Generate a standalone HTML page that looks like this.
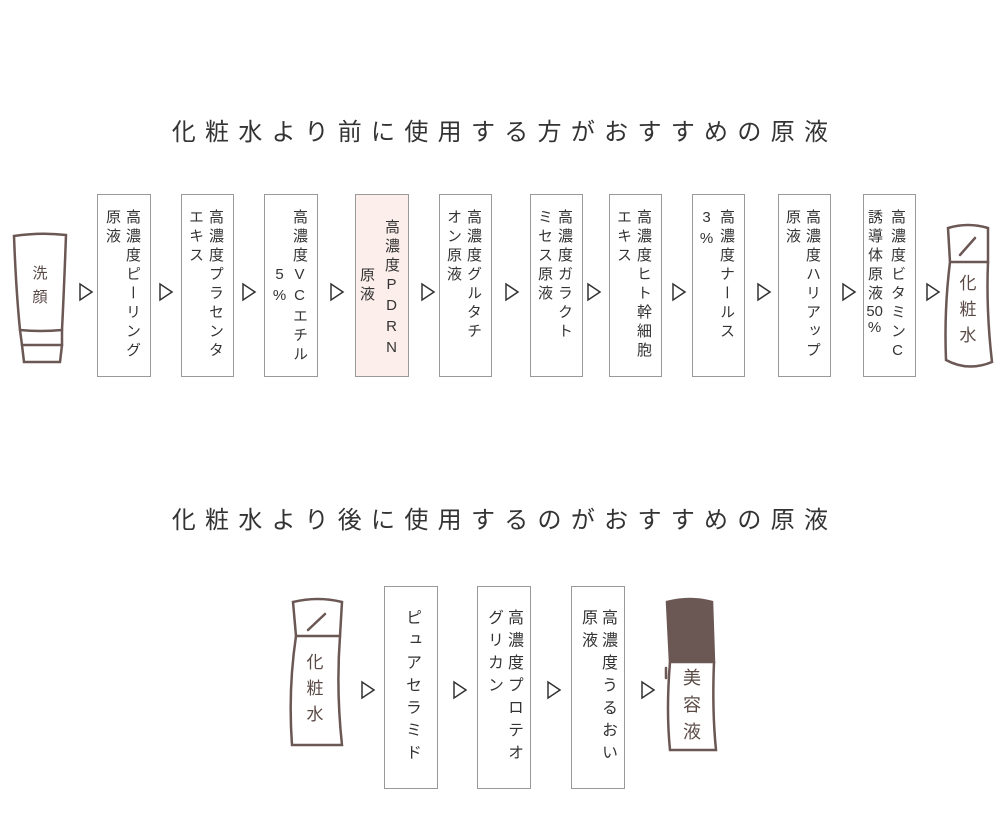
<!DOCTYPE html>
<html><head><meta charset="utf-8"><style>
body{margin:0;background:#fff;width:1000px;height:834px;position:relative;overflow:hidden;font-family:"Liberation Sans","Noto Sans CJK JP",sans-serif;color:#333}
.t{position:absolute;left:0;width:1000px;text-align:center;font-size:24px;letter-spacing:9.3px;padding-left:9px;box-sizing:border-box;color:#333}
.b{position:absolute;border:1px solid #999;box-sizing:border-box;background:#fff;display:flex;justify-content:flex-end;align-items:flex-start;padding-right:9px;gap:3px}
.c{writing-mode:vertical-rl;text-orientation:upright;font-size:15px;letter-spacing:4px;line-height:17px;width:17px;white-space:nowrap;flex:none}
.bb .c{font-size:16px;letter-spacing:6.5px;line-height:18px;width:18px}
.tcy{text-combine-upright:all}
svg{position:absolute;left:0;top:0}
.lab{position:absolute;color:#5a4a46;text-align:center}
</style></head><body>
<div class="t" style="top:112px">化粧水より前に使用する方がおすすめの原液</div>
<div class="t" style="top:500px">化粧水より後に使用するのがおすすめの原液</div>

<div class="b" style="left:97px;top:194px;width:54px;height:183px"><div class="c" style="margin-top:14px">原液</div><div class="c" style="margin-top:14px">高濃度ピーリング</div></div>
<div class="b" style="left:181px;top:194px;width:53px;height:183px"><div class="c" style="margin-top:14px">エキス</div><div class="c" style="margin-top:14px">高濃度プラセンタ</div></div>
<div class="b" style="left:264px;top:194px;width:54px;height:183px"><div class="c" style="margin-top:71px">5%</div><div class="c" style="margin-top:14px">高濃度VCエチル</div></div>
<div class="b" style="left:355px;top:194px;width:54px;height:183px;background:#fcefeb;padding-right:8px;gap:8px"><div class="c" style="margin-top:72px">原液</div><div class="c" style="margin-top:24px">高濃度PDRN</div></div>
<div class="b" style="left:439px;top:194px;width:53px;height:183px"><div class="c" style="margin-top:14px">オン原液</div><div class="c" style="margin-top:14px">高濃度グルタチ</div></div>
<div class="b" style="left:530px;top:194px;width:53px;height:183px"><div class="c" style="margin-top:14px">ミセス原液</div><div class="c" style="margin-top:14px">高濃度ガラクト</div></div>
<div class="b" style="left:609px;top:194px;width:53px;height:183px"><div class="c" style="margin-top:14px">エキス</div><div class="c" style="margin-top:14px">高濃度ヒト幹細胞</div></div>
<div class="b" style="left:692px;top:194px;width:53px;height:183px"><div class="c" style="margin-top:14px">3%</div><div class="c" style="margin-top:14px">高濃度ナールス</div></div>
<div class="b" style="left:778px;top:194px;width:53px;height:183px"><div class="c" style="margin-top:14px">原液</div><div class="c" style="margin-top:14px">高濃度ハリアップ</div></div>
<div class="b" style="left:863px;top:194px;width:53px;height:183px;gap:6px"><div class="c" style="margin-top:14px">誘導体原液<span class="tcy">50</span>%</div><div class="c" style="margin-top:14px">高濃度ビタミンC</div></div>

<div class="b bb" style="left:384px;top:586px;width:54px;height:203px;justify-content:center;padding-right:0"><div class="c" style="margin-top:22px">ピュアセラミド</div></div>
<div class="b bb" style="left:477px;top:586px;width:54px;height:203px;padding-right:8px;gap:2px"><div class="c" style="margin-top:22px">グリカン</div><div class="c" style="margin-top:22px">高濃度プロテオ</div></div>
<div class="b bb" style="left:571px;top:586px;width:54px;height:203px;padding-right:8px;gap:2px"><div class="c" style="margin-top:22px">原液</div><div class="c" style="margin-top:22px">高濃度うるおい</div></div>

<svg width="1000" height="834" fill="none" stroke="#333" stroke-width="1.5">
<g>
<path d="M80 284 L92 292 L80 300Z"/><path d="M160 284 L172 292 L160 300Z"/><path d="M243 284 L255 292 L243 300Z"/><path d="M331 284 L343 292 L331 300Z"/><path d="M422 284 L434 292 L422 300Z"/><path d="M506 284 L518 292 L506 300Z"/><path d="M588 284 L600 292 L588 300Z"/><path d="M673 284 L685 292 L673 300Z"/><path d="M758 284 L770 292 L758 300Z"/><path d="M843 284 L855 292 L843 300Z"/><path d="M927 284 L939 292 L927 300Z"/>
<path d="M362 682 L374 690 L362 698Z"/><path d="M454 682 L466 690 L454 698Z"/><path d="M548 682 L560 690 L548 698Z"/><path d="M642 682 L654 690 L642 698Z"/>
</g>
<g stroke="#6b5753" stroke-width="2.5" stroke-linecap="round">
<path d="M14 236 Q40 232 66 235 Q64 290 62 330 Q40 332 20 330 Q16 290 14 236 Z"/>
<path d="M20 330 L22 345 L62 345 L62 330"/><path d="M22 345 L24 362 L60 362 L62 345"/>
<path d="M948 228 Q968 222 988 228 L988 262 L950 262 Z"/><path d="M950 262 Q944 310 946 360 Q968 372 992 362 Q986 310 988 262"/><path d="M960 255 L975 238"/>
<path d="M293 602 Q318 596 342 602 L340 636 L296 636 Z"/><path d="M296 636 Q288 690 292 745 L342 745 Q336 690 340 636"/><path d="M308 630 L325 614"/>
<path d="M667 602 Q690 596 712 602 L714 662 L670 662 Z" fill="#6b5753"/><path d="M670 662 Q666 710 670 750 L716 750 Q712 710 714 662"/><path d="M666 668 L666 678"/>
</g>
</svg>
<div class="lab" style="left:29px;top:262px;width:22px;font-size:15px;line-height:24px">洗<br>顔</div>
<div class="lab" style="left:957px;top:271px;width:22px;font-size:17px;line-height:26px">化<br>粧<br>水</div>
<div class="lab" style="left:304px;top:650px;width:22px;font-size:17px;line-height:26px">化<br>粧<br>水</div>
<div class="lab" style="left:680px;top:665px;width:24px;font-size:18px;line-height:27px">美<br>容<br>液</div>
</body></html>
